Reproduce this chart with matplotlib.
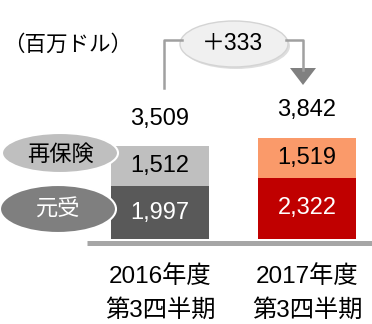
import matplotlib
matplotlib.use("Agg")
import matplotlib.pyplot as plt
from matplotlib.patches import Ellipse, Polygon

plt.rcParams['font.family'] = ['Liberation Sans', 'Noto Sans CJK JP', 'DejaVu Sans']

# Data (millions of USD)
periods = ["2016年度\n第3四半期", "2017年度\n第3四半期"]
direct = [1997, 2322]       # 元受
reinsurance = [1512, 1519]  # 再保険
totals = [3509, 3842]       # reported totals
direct_colors = ["#595959", "#c00000"]
reins_colors = ["#bfbfbf", "#fa9a6a"]
direct_text = ["white", "white"]
reins_text = ["black", "black"]
change_label = "＋333"
unit_label = "（百万ドル）"

W, H = 372, 324
fig = plt.figure(figsize=(W / 100, H / 100), dpi=100)
fig.patch.set_facecolor("white")

# Bar axes: pixel-consistent scale
k = 0.0264          # pixels per unit
base_px = 239       # baseline pixel row
x0_px, step_px = 160, 147
ax = fig.add_axes([0, 0, 1, 1])
ax.set_xlim(-x0_px / step_px, (W - x0_px) / step_px)
ax.set_ylim((base_px - H) / k, base_px / k)
ax.axis("off")

xs = list(range(len(periods)))
bw = 98 / step_px
ax.bar(xs, direct, width=bw, color=direct_colors, zorder=2)
ax.bar(xs, reinsurance, width=bw, bottom=direct, color=reins_colors, zorder=2)

for i in xs:
    ax.text(i, direct[i] / 2, f"{direct[i]:,}", ha="center", va="center",
            fontsize=17, color=direct_text[i], zorder=3)
    ax.text(i, direct[i] + reinsurance[i] / 2, f"{reinsurance[i]:,}",
            ha="center", va="center", fontsize=17, color=reins_text[i], zorder=3)
    ax.annotate(f"{totals[i]:,}", (i, totals[i]), xytext=(0, 20),
                textcoords="offset points", ha="center", va="center", fontsize=17)
    line1, line2 = periods[i].split("\n")
    ax.text(i, -38 / k, line1, ha="center", va="center", fontsize=17.5)
    ax.text(i, -71 / k, line2, ha="center", va="center", fontsize=17.5)

# Overlay in pixel coordinates for decorations
ov = fig.add_axes([0, 0, 1, 1], zorder=5)
ov.set_xlim(0, W)
ov.set_ylim(H, 0)
ov.axis("off")
ov.patch.set_alpha(0)

# baseline
ov.plot([87, W], [242.5, 242.5], color="#a6a6a6", lw=3.6, solid_capstyle="butt")

# legend ellipses
ov.add_patch(Ellipse((60, 153), 116, 40, facecolor="#bfbfbf", edgecolor="white", lw=1.5))
ov.add_patch(Ellipse((58, 209), 116, 48, facecolor="#7f7f7f", edgecolor="white", lw=1.5))
ov.text(60, 155, "再保険", ha="center", va="center", fontsize=16, color="black")
ov.text(58, 210, "元受", ha="center", va="center", fontsize=16, color="white")

# unit label
ov.text(3, 45, unit_label, ha="left", va="center", fontsize=15.5)

# change connector
lc = "#a0a0a0"
ov.plot([164, 164, 182], [88, 40, 40], color=lc, lw=1.8)
ov.plot([286, 303, 303], [40, 40, 70], color=lc, lw=1.8)
ov.add_patch(Polygon([(290, 68), (316, 68), (303, 85)], closed=True,
                     facecolor="#808080", edgecolor="none"))
ov.add_patch(Ellipse((236, 46), 108, 46, facecolor="#c8c8c8", edgecolor="none", alpha=0.6))
ov.add_patch(Ellipse((234, 44), 108, 46, facecolor="#f0f0f0", edgecolor="#d4d4d4", lw=1))
ov.text(232, 44, change_label, ha="center", va="center", fontsize=16.5)

fig.savefig("out.png", dpi=100)
